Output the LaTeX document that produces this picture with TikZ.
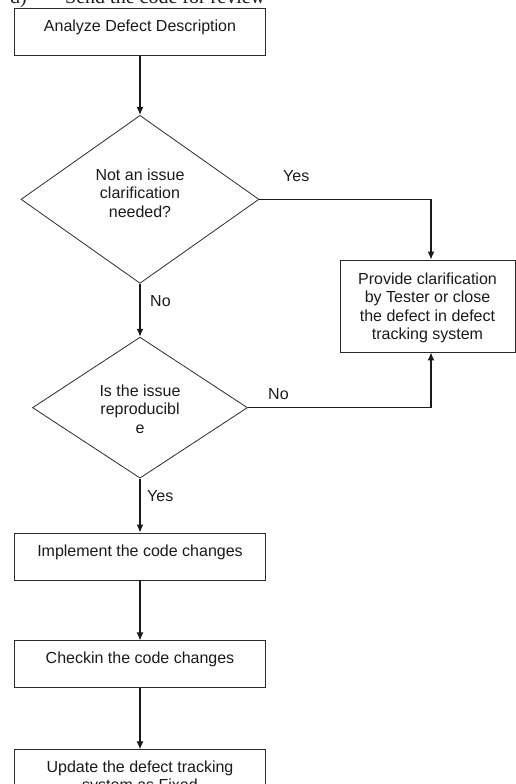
\documentclass[tikz,border=0pt]{standalone}
\usepackage{fontspec}
\setmainfont{Liberation Sans}
\newfontfamily\docserif{Liberation Serif}
\usetikzlibrary{arrows.meta,positioning,shapes.geometric}
\definecolor{flowInk}{HTML}{1A1A1A}
\definecolor{flowLine}{HTML}{2B2B2B}
\tikzset{
    >=Latex,
    procbox/.style={draw=flowLine, line width=0.9pt, minimum width=251pt, minimum height=47pt, inner sep=0pt, text height=12pt, text depth=13pt, text=flowInk},
    infobox/.style={draw=flowLine, line width=0.9pt, minimum width=175pt, minimum height=92pt, inner sep=0pt, align=center, text=flowInk},
    decision/.style={diamond, draw=flowLine, line width=0.8pt, inner sep=0pt, align=center, text=flowInk},
    flowarrow/.style={-{Latex[length=8pt,width=7pt]}, line width=1.2pt, draw=flowInk},
    branch/.style={inner sep=0pt, anchor=base west, text=flowInk}
}

\begin{document}
\begin{tikzpicture}[x=1pt, y=-1pt, font=\fontsize{16pt}{18.4pt}\selectfont]
\useasboundingbox (0,0) rectangle (516,784);
\clip (0,0) rectangle (516,784);
% cut-off heading above the chart
\node[branch, font=\docserif\fontsize{20pt}{24pt}\selectfont] (hdrnum) at (10,3.5) {d)};
\node[branch, font=\docserif\fontsize{20pt}{24pt}\selectfont] (hdrtxt) at (65,3.5) {Send the code for review};
% main column
\node[procbox] (analyze) at (140,32) {Analyze Defect Description};
\node[decision, minimum width=238pt, minimum height=168pt, text height=48.3pt, text depth=12.3pt, below=59pt of analyze] (notissue) {Not an issue\\clarification\\needed?};
\node[decision, minimum width=215pt, minimum height=141pt, text height=51.4pt, text depth=0pt, below=53pt of notissue] (reproduce) {Is the issue\\reproducibl\\e};
\node[procbox, below=54pt of reproduce] (implement) {Implement the code changes};
\node[procbox, below=60pt of implement] (checkin) {Checkin the code changes};
\node[procbox, text height=30.1pt, text depth=4.1pt, minimum height=56pt, align=center, below=61pt of checkin] (update) {Update the defect tracking\\system as Fixed};
% side branch
\node[infobox, text height=70.4pt, text depth=3.4pt] (clarify) at (427.5,306) {Provide clarification\\by Tester or close\\the defect in defect\\tracking system};
\node[branch] (yes1) at (283,181) {Yes};
\node[branch] (no1) at (150,306) {No};
\node[branch] (no2) at (268,399) {No};
\node[branch] (yes2) at (147,501) {Yes};
\draw[flowarrow] (analyze)--(notissue); \draw[flowarrow] (notissue.east)-|([xshift=3.5pt]clarify.north);
\draw[flowarrow] (notissue)--(reproduce); \draw[flowarrow] (reproduce.east)-|([xshift=3.5pt]clarify.south);
\draw[flowarrow] (reproduce)--(implement); \draw[flowarrow] (implement)--(checkin); \draw[flowarrow] (checkin)--(update);
\end{tikzpicture}
\end{document}
